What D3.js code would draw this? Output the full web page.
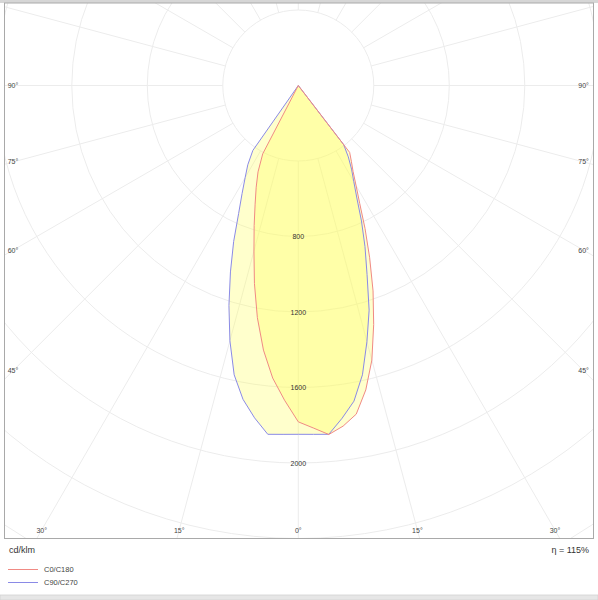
<!DOCTYPE html>
<html>
<head>
<meta charset="utf-8">
<script src="https://cdnjs.cloudflare.com/ajax/libs/d3/7.8.5/d3.min.js"></script>
<style>
    body { margin: 0; background: #fff; }
    svg { display: block; font-family: "Liberation Sans", Arial, sans-serif; }
</style>
</head>
<body>
<svg id="ldc" width="598" height="600"></svg>
<script>
// gamma angles (deg from nadir) and intensities in cd/klm
let gammas = [0, 2.5, 5, 7.5, 10, 12.5, 15, 17.5, 20, 22.5, 25, 27.5, 30, 32.5, 35, 37.5, 40, 42.5, 45];
let c0   = [1782, 1816, 1856, 1820, 1768, 1652, 1506, 1328, 1158, 988, 837, 705, 612, 540, 490, 447, 0, 0, 0];
let c180 = [1782, 1669, 1556, 1414, 1249, 1074, 908, 778, 669, 583, 505, 408, 0, 0, 0, 0, 0, 0, 0];
let c90  = [1848, 1850, 1855, 1778, 1698, 1570, 1405, 1248, 1065, 923, 792, 672, 588, 525, 462, 395, 0, 0, 0];
let c270 = [1848, 1850, 1855, 1776, 1688, 1570, 1400, 1222, 1051, 895, 748, 645, 563, 498, 420, 0, 0, 0, 0];

let rings = [400, 800, 1200, 1600, 2000, 2400, 2800, 3200];
let ringLabels = [800, 1200, 1600, 2000];
let spokes = [0, 15, 30, 45, 60, 75, 90, 105, 120, 135, 150, 165, 180, 195, 210, 225, 240, 255, 270, 285, 300, 315, 330, 345];
let angleLabels = [0, 15, 30, 45, 60, 75, 90];

let series = [
    {name: "C90/C270", right: c90, left: c270, color: "#8a8ae6"},
    {name: "C0/C180", right: c0, left: c180, color: "#f08a84"}
];

let unit = "cd/klm";
let efficiency = "\u03b7 = 115%";

let svg = d3.select("#ldc");
let cx = 298.3, cy = 85.5;
let frame = {x: 4.5, y: 3, w: 589, h: 535.5};

let rScale = d3.scaleLinear().domain([0, 400]).range([0, 75.5]);
let rad = function (deg) { return deg * Math.PI / 180; };

svg.append("rect").attr("x", 0).attr("y", 0).attr("width", 598).attr("height", 3)
    .attr("fill", "#d6d6d6");
svg.append("rect").attr("x", 0).attr("y", 595).attr("width", 598).attr("height", 5)
    .attr("fill", "#e6e6e6").attr("stroke", "#d2d2d2").attr("stroke-width", 0.8);

svg.append("clipPath").attr("id", "clip")
    .append("rect")
    .attr("x", frame.x).attr("y", frame.y)
    .attr("width", frame.w).attr("height", frame.h);

let plot = svg.append("g").attr("clip-path", "url(#clip)");
let g = plot.append("g").attr("transform", "translate(" + cx + "," + cy + ")");

// grid
g.selectAll("circle.ring")
    .data(rings)
    .enter()
    .append("circle")
    .attr("class", "ring")
    .attr("r", function (d) { return rScale(d); })
    .attr("fill", "none")
    .attr("stroke", "#ececec")
    .attr("stroke-width", 1);

g.selectAll("line.spoke")
    .data(spokes)
    .enter()
    .append("line")
    .attr("class", "spoke")
    .attr("x1", function (d) { return Math.sin(rad(d)) * rScale(rings[0]); })
    .attr("y1", function (d) { return Math.cos(rad(d)) * rScale(rings[0]); })
    .attr("x2", function (d) { return Math.sin(rad(d)) * rScale(rings[rings.length - 1]); })
    .attr("y2", function (d) { return Math.cos(rad(d)) * rScale(rings[rings.length - 1]); })
    .attr("stroke", "#ececec")
    .attr("stroke-width", 1);

// curves: left half from 90 down to 0, right half from 0 up to 90
let line = d3.lineRadial()
    .angle(function (d) { return d.a; })
    .radius(function (d) { return rScale(d.v); });

function outline(s) {
    let pts = [];
    for (let i = gammas.length - 1; i >= 0; i--) {
        pts.push({a: Math.PI + rad(gammas[i]), v: s.left[i]});
    }
    for (let i = 1; i < gammas.length; i++) {
        pts.push({a: Math.PI - rad(gammas[i]), v: s.right[i]});
    }
    return line(pts) + "Z";
}

g.selectAll("path.fill")
    .data(series)
    .enter()
    .append("path")
    .attr("class", "fill")
    .attr("d", outline)
    .attr("fill", "#ffff55")
    .attr("fill-opacity", 0.3);

g.selectAll("path.curve")
    .data(series)
    .enter()
    .append("path")
    .attr("class", "curve")
    .attr("d", outline)
    .attr("fill", "none")
    .attr("stroke", function (d) { return d.color; })
    .attr("stroke-width", 1)
    .attr("stroke-linejoin", "round");

// labels
g.selectAll("text.ringLabel")
    .data(ringLabels)
    .enter()
    .append("text")
    .attr("class", "ringLabel")
    .attr("x", 0)
    .attr("y", function (d) { return rScale(d); })
    .attr("text-anchor", "middle")
    .attr("dominant-baseline", "central")
    .attr("font-size", 7)
    .attr("fill", "#333")
    .text(function (d) { return d; });

let labelBox = {side: 285.3, bottom: 444.5};
let angleData = [];
angleLabels.forEach(function (a) {
    angleData.push({a: a, s: 1});
    if (a > 0) angleData.push({a: a, s: -1});
});

g.selectAll("text.angleLabel")
    .data(angleData)
    .enter()
    .append("text")
    .attr("class", "angleLabel")
    .each(function (d) {
        let sx = Math.sin(rad(d.a)), sy = Math.cos(rad(d.a));
        let t = Infinity;
        if (sx > 1e-6) t = Math.min(t, labelBox.side / sx);
        if (sy > 1e-6) t = Math.min(t, labelBox.bottom / sy);
        d.x = d.s * sx * t;
        d.y = sy * t;
    })
    .attr("x", function (d) { return d.x; })
    .attr("y", function (d) { return d.y; })
    .attr("text-anchor", "middle")
    .attr("dominant-baseline", "central")
    .attr("font-size", 7)
    .attr("fill", "#444")
    .text(function (d) { return d.a + "\u00b0"; });

svg.append("rect")
    .attr("x", frame.x).attr("y", frame.y)
    .attr("width", frame.w).attr("height", frame.h)
    .attr("fill", "none")
    .attr("stroke", "#a9a9a9")
    .attr("stroke-width", 1);

svg.append("text")
    .attr("x", 9).attr("y", 553)
    .attr("font-size", 9)
    .attr("fill", "#333")
    .text(unit);

svg.append("text")
    .attr("x", 589).attr("y", 553)
    .attr("text-anchor", "end")
    .attr("font-size", 9)
    .attr("fill", "#333")
    .text(efficiency);

let legend = svg.selectAll("g.legend")
    .data(series.slice().reverse())
    .enter()
    .append("g")
    .attr("class", "legend")
    .attr("transform", function (d, i) { return "translate(0," + (569.5 + i * 13) + ")"; });

legend.append("line")
    .attr("x1", 8).attr("x2", 38)
    .attr("stroke", function (d) { return d.color; })
    .attr("stroke-width", 1);

legend.append("text")
    .attr("x", 44)
    .attr("dominant-baseline", "central")
    .attr("font-size", 7.5)
    .attr("fill", "#444")
    .text(function (d) { return d.name; });
</script>
</body>
</html>
